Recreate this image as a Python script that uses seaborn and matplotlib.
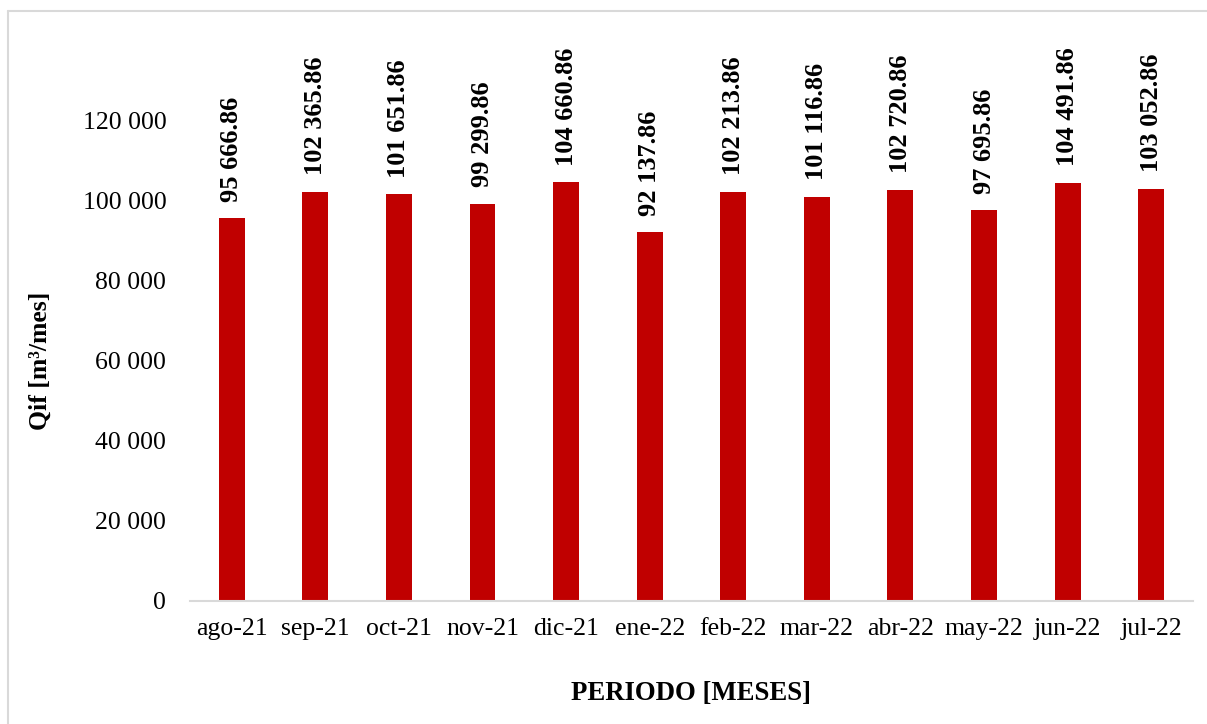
import matplotlib
matplotlib.use("Agg")
import matplotlib.pyplot as plt
from matplotlib.lines import Line2D
import seaborn as sns
import pandas as pd

meses = ["ago-21", "sep-21", "oct-21", "nov-21", "dic-21", "ene-22",
         "feb-22", "mar-22", "abr-22", "may-22", "jun-22", "jul-22"]
qif = [95666.86, 102365.86, 101651.86, 99299.86, 104660.86, 92137.86,
       102213.86, 101116.86, 102720.86, 97695.86, 104491.86, 103052.86]
yticks = [0, 20000, 40000, 60000, 80000, 100000, 120000]

sns.set_theme(style="white")
plt.rcParams["font.family"] = ["Liberation Serif", "DejaVu Serif"]

df = pd.DataFrame({"mes": meses, "qif": qif})

fig = plt.figure(figsize=(12.07, 7.24), dpi=100)
ax = fig.add_axes([0.1574, 0.1699, 0.8310, 0.6630])

sns.barplot(data=df, x="mes", y="qif", color="#C00000", width=0.31,
            saturation=1, ax=ax, edgecolor="none")

ax.set_ylim(0, 120000)
ax.set_xlim(-0.5, len(meses) - 0.5)
ax.set_yticks(yticks)
ax.set_yticklabels([f"{v:,.0f}".replace(",", " ") for v in yticks])
ax.tick_params(axis="y", length=0, pad=17, labelsize=18.5, colors="black")
ax.tick_params(axis="x", length=0, pad=12, labelsize=18.5, colors="black")

for side in ["top", "right", "left"]:
    ax.spines[side].set_visible(False)
ax.spines["bottom"].set_color("#D9D9D9")
ax.spines["bottom"].set_linewidth(1.5)

for i, v in enumerate(qif):
    txt = f"{v:,.2f}".replace(",", " ")
    ax.annotate(txt, (i, v), xytext=(0, 12), textcoords="offset points",
                rotation=90, ha="center", va="bottom", fontsize=19,
                fontweight="bold", color="black", annotation_clip=False)

ax.set_xlabel("PERIODO [MESES]", fontsize=19.3, fontweight="bold",
              color="black", labelpad=30)
ax.set_ylabel("Qif [m³/mes]", fontsize=18.5, fontweight="bold",
              color="black", labelpad=22)

# chart-area frame (left and top edges)
x0, y0 = 8 / 1207, 1 - 11 / 724
fig.add_artist(Line2D([x0, x0], [0, y0], color="#D9D9D9", lw=1.5,
                      transform=fig.transFigure))
fig.add_artist(Line2D([x0, 1], [y0, y0], color="#D9D9D9", lw=1.5,
                      transform=fig.transFigure))

fig.savefig("out.png", dpi=100, facecolor="white")
